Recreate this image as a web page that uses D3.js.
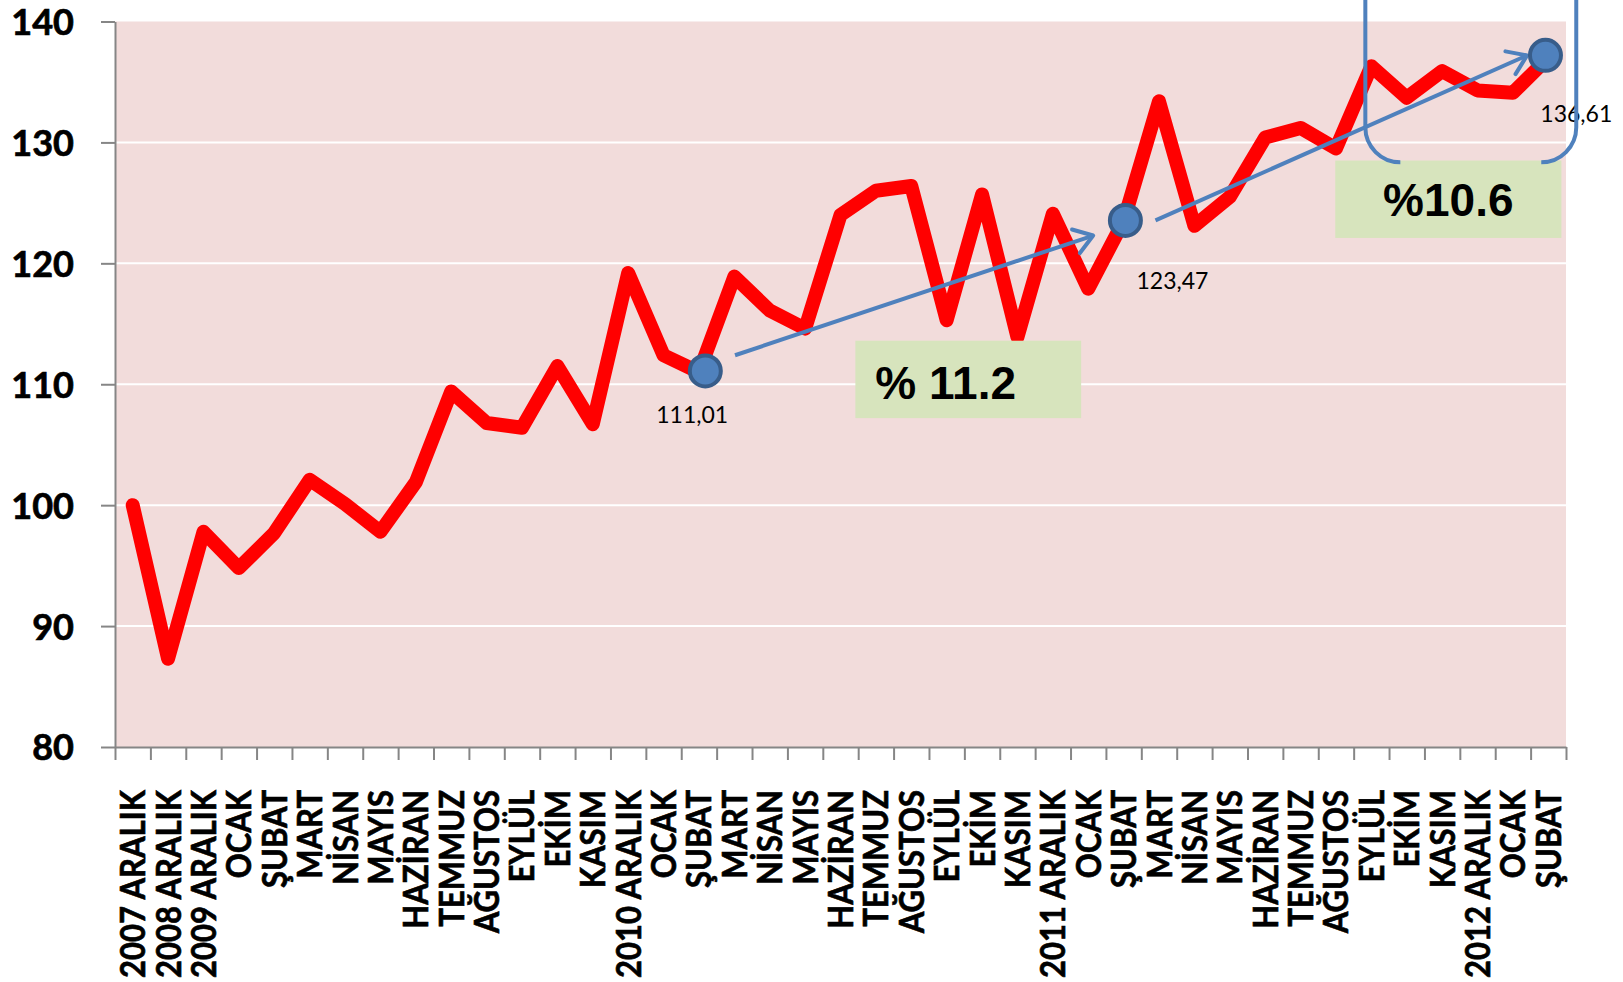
<!DOCTYPE html>
<html>
<head>
<meta charset="utf-8">
<script src="https://cdn.jsdelivr.net/npm/d3@7"></script>
<style>
    body { margin: 0; background: #fff; }
    .yAxis text { font-family: Lato, sans-serif; font-weight: 700; font-size: 36px; fill: #000; stroke: #000; stroke-width: 0.7px; }
    .catLabel { font-family: Lato, sans-serif; font-weight: 700; font-size: 31px; fill: #000; stroke: #000; stroke-width: 0.6px; }
    .dataLabel { font-family: Lato, sans-serif; font-size: 23px; fill: #000; }
    .boxText { font-family: "Liberation Sans", Arial, sans-serif; font-weight: 700; font-size: 46px; fill: #000; }
</style>
</head>
<body>
<script>
//categories along the x axis (41 months)
var categories = ["2007 ARALIK", "2008 ARALIK", "2009 ARALIK",
    "OCAK", "ŞUBAT", "MART", "NİSAN", "MAYIS", "HAZİRAN", "TEMMUZ", "AĞUSTOS", "EYLÜL", "EKİM", "KASIM", "2010 ARALIK",
    "OCAK", "ŞUBAT", "MART", "NİSAN", "MAYIS", "HAZİRAN", "TEMMUZ", "AĞUSTOS", "EYLÜL", "EKİM", "KASIM", "2011 ARALIK",
    "OCAK", "ŞUBAT", "MART", "NİSAN", "MAYIS", "HAZİRAN", "TEMMUZ", "AĞUSTOS", "EYLÜL", "EKİM", "KASIM", "2012 ARALIK",
    "OCAK", "ŞUBAT"];

//index values
var values = [100.0, 87.3, 97.8,
    94.8, 97.7, 102.1, 100.1, 97.8, 101.9, 109.4, 106.8, 106.4, 111.5, 106.7, 119.2,
    112.4, 111.0, 118.9, 116.1, 114.6, 124.0, 126.0, 126.4, 115.3, 125.7, 113.9, 124.1,
    117.9, 123.5, 133.4, 123.1, 125.5, 130.4, 131.2, 129.5, 136.3, 133.7, 135.9, 134.3,
    134.1, 137.0];

//y axis ticks
var yTicks = [80, 90, 100, 110, 120, 130, 140];

//highlighted points: category position, value, label
var markerPos = [16.68, 28.55, 40.42];
var markerVals = [111.1, 123.55, 137.2];
var markerLabels = ["111,01", "123,47", "136,61"];
//label anchor positions (category position, value at baseline)
var labelPos = [16.31, 29.88, 41.29];
var labelVals = [106.8, 117.85, 131.65];

//trend arrows [fromPos, fromVal, toPos, toVal]
var arrows = [[17.52, 112.4, 27.64, 122.3], [29.4, 123.55, 39.9, 137.2]];

//percent change boxes [pos0, val0, pos1, val1]
var boxes = [[20.92, 113.6, 27.30, 107.2], [34.48, 128.5, 40.87, 122.1]];
var boxTexts = ["% 11.2", "%10.6"];

//bracket around the last months [leftPos, rightPos, bottomVal]
var bracket = [35.33, 41.29, 128.35];

//draw everything
setChart();

function setChart(){
    var width = 1623, height = 982;
    var left = 115, right = 1566, top = 21.5, bottom = 747;

    var svg = d3.select("body")
        .append("svg")
        .attr("width", width)
        .attr("height", height);

    //scales
    var x = d3.scaleLinear()
        .domain([0, categories.length])
        .range([left, right]);
    var y = d3.scaleLinear()
        .domain([80, 140])
        .range([bottom, top]);

    //plot background
    svg.append("rect")
        .attr("x", left)
        .attr("y", top)
        .attr("width", right - left)
        .attr("height", bottom - top)
        .style("fill", "#F2DCDB");

    //gridlines
    svg.selectAll(".grid")
        .data(yTicks.slice(1, -1))
        .enter()
        .append("line")
        .attr("class", "grid")
        .attr("x1", left)
        .attr("x2", right)
        .attr("y1", function(d){ return y(d); })
        .attr("y2", function(d){ return y(d); })
        .style("stroke", "#fff")
        .style("stroke-width", 2);

    //y axis
    var yAxis = svg.append("g")
        .attr("class", "yAxis")
        .attr("transform", "translate(" + left + ",0)")
        .call(d3.axisLeft(y).tickValues(yTicks).tickSize(14).tickSizeOuter(0).tickPadding(27));
    yAxis.selectAll("line, path").style("stroke", "#868686").style("stroke-width", 2);
    yAxis.selectAll("text").attr("dy", "0.36em");

    //x axis, ticks on category edges
    var xAxis = svg.append("g")
        .attr("class", "xAxis")
        .attr("transform", "translate(0," + bottom + ")")
        .call(d3.axisBottom(x).tickValues(d3.range(categories.length + 1)).tickSize(13).tickSizeOuter(0).tickFormat(""));
    xAxis.selectAll("line, path").style("stroke", "#868686").style("stroke-width", 2);

    //rotated category labels
    svg.selectAll(".catLabel")
        .data(categories)
        .enter()
        .append("text")
        .attr("class", "catLabel")
        .attr("text-anchor", "end")
        .attr("dy", "0.36em")
        .attr("transform", function(d, i){
            return "translate(" + x(i + 0.5) + ",790) rotate(-90) scale(1,1.12)";
        })
        .text(function(d){ return d; });

    //red data line
    var line = d3.line()
        .x(function(d, i){ return x(i + 0.5); })
        .y(function(d){ return y(d); });
    svg.append("path")
        .datum(values)
        .attr("d", line)
        .style("fill", "none")
        .style("stroke", "#FF0000")
        .style("stroke-width", 14)
        .style("stroke-linejoin", "round")
        .style("stroke-linecap", "round");

    //percent boxes
    svg.selectAll(".box")
        .data(boxes)
        .enter()
        .append("rect")
        .attr("class", "box")
        .attr("x", function(d){ return x(d[0]); })
        .attr("y", function(d){ return y(d[1]); })
        .attr("width", function(d){ return x(d[2]) - x(d[0]); })
        .attr("height", function(d){ return y(d[3]) - y(d[1]); })
        .style("fill", "#D7E4BD");

    svg.selectAll(".boxText")
        .data(boxes)
        .enter()
        .append("text")
        .attr("class", "boxText")
        .attr("x", function(d, i){ return i == 0 ? x(d[0]) + 20 : (x(d[0]) + x(d[2])) / 2; })
        .attr("y", function(d, i){ return y(d[1]) + (i == 0 ? 58 : 55); })
        .attr("text-anchor", function(d, i){ return i == 0 ? "start" : "middle"; })
        .text(function(d, i){ return boxTexts[i]; });

    //trend arrows
    var blue = "#4F81BD";
    arrows.forEach(function(a){
        var x0 = x(a[0]), y0 = y(a[1]), x1 = x(a[2]), y1 = y(a[3]);
        var ang = Math.atan2(y1 - y0, x1 - x0);
        var len = 22, spread = 0.6;
        svg.append("line")
            .attr("x1", x0).attr("y1", y0)
            .attr("x2", x1).attr("y2", y1)
            .style("stroke", blue)
            .style("stroke-width", 4);
        svg.append("path")
            .attr("d", "M" + (x1 - len * Math.cos(ang - spread)) + "," + (y1 - len * Math.sin(ang - spread)) +
                "L" + x1 + "," + y1 +
                "L" + (x1 - len * Math.cos(ang + spread)) + "," + (y1 - len * Math.sin(ang + spread)))
            .style("fill", "none")
            .style("stroke", blue)
            .style("stroke-width", 4)
            .style("stroke-linecap", "round")
            .style("stroke-linejoin", "round");
    });

    //highlighted markers
    svg.selectAll(".marker")
        .data(markerPos)
        .enter()
        .append("circle")
        .attr("class", "marker")
        .attr("cx", function(d){ return x(d); })
        .attr("cy", function(d, i){ return y(markerVals[i]); })
        .attr("r", 15.5)
        .style("fill", blue)
        .style("stroke", "#385D8A")
        .style("stroke-width", 4);

    //marker value labels
    svg.selectAll(".dataLabel")
        .data(markerLabels)
        .enter()
        .append("text")
        .attr("class", "dataLabel")
        .attr("text-anchor", "middle")
        .attr("x", function(d, i){ return x(labelPos[i]); })
        .attr("y", function(d, i){ return y(labelVals[i]); })
        .text(function(d){ return d; });

    //bracket shape around the last months
    var bl = x(bracket[0]), br = x(bracket[1]), bb = y(bracket[2]), r = 35;
    svg.append("path")
        .attr("d", "M" + bl + ",-10 L" + bl + "," + (bb - r) +
            " A" + r + "," + r + " 0 0 0 " + (bl + r) + "," + bb)
        .style("fill", "none")
        .style("stroke", blue)
        .style("stroke-width", 4);
    svg.append("path")
        .attr("d", "M" + br + ",-10 L" + br + "," + (bb - r) +
            " A" + r + "," + r + " 0 0 1 " + (br - r) + "," + bb)
        .style("fill", "none")
        .style("stroke", blue)
        .style("stroke-width", 4);
}
</script>
</body>
</html>
